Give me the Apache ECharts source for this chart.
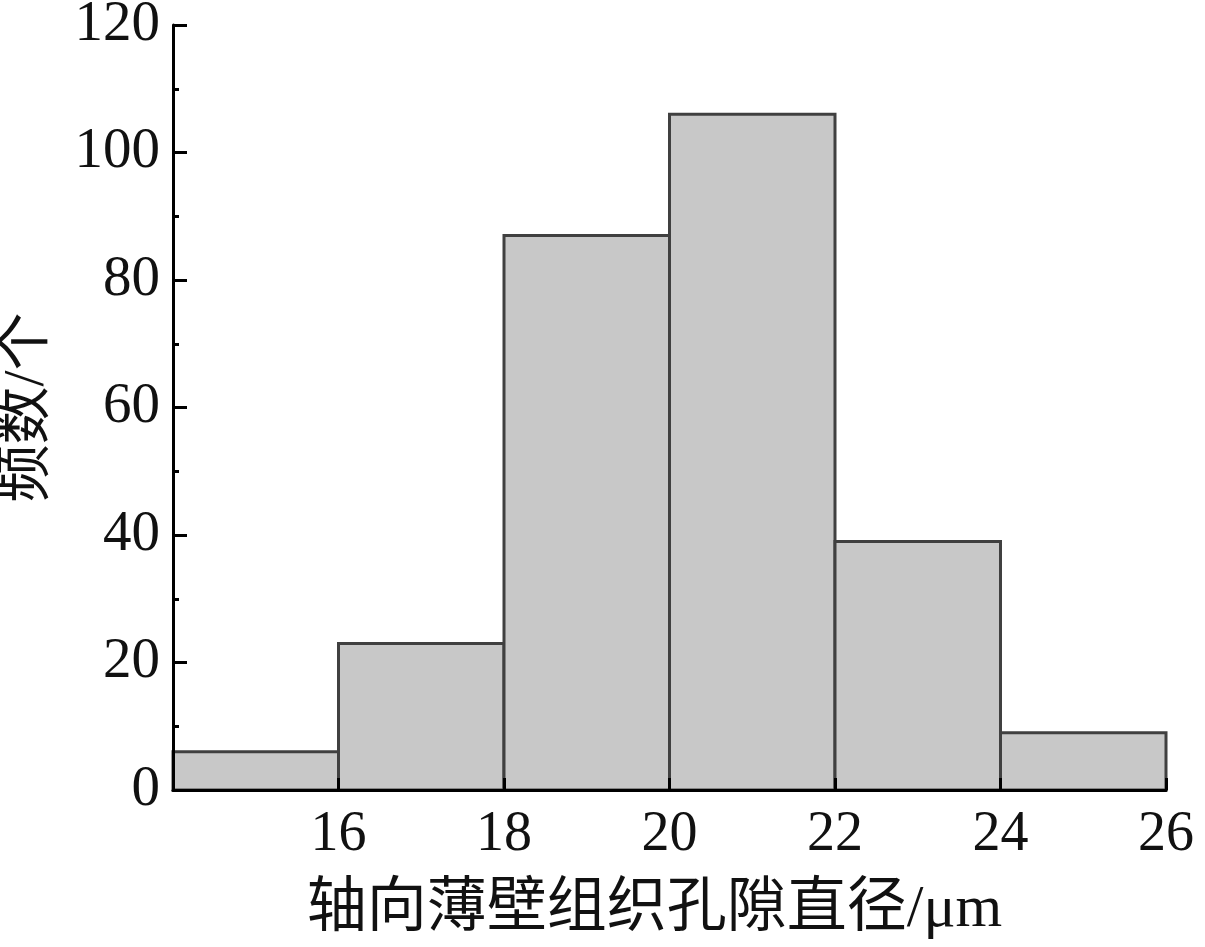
<!DOCTYPE html>
<html>
<head>
<meta charset="utf-8">
<script src="https://cdn.jsdelivr.net/npm/echarts@6/dist/echarts.min.js"></script>
<style>
  html, body { margin: 0; padding: 0; background: #fff; }
  #chart { width: 1205px; height: 947px; }
</style>
</head>
<body>
<div id="chart"></div>
<script>
// 分组边界与频数
const binStart = [14, 16, 18, 20, 22, 24]
const binEnd = [16, 18, 20, 22, 24, 26]
const counts = [6, 23, 87, 106, 39, 9]

const xName = '轴向薄壁组织孔隙直径/μm'
const yName = '频数/个'

const fontFamily = '"Liberation Serif", "Noto Sans CJK SC", serif'

let chart = echarts.init(document.getElementById('chart'))
let barData = binStart.map((s, i) => [s, binEnd[i], counts[i]])

chart.setOption({
  animation: false,
  grid: {
    left: 173,
    right: 39,
    top: 25,
    bottom: 157,
    outerBoundsMode: 'none',
    containLabel: false
  },
  xAxis: {
    type: 'value',
    min: 14,
    max: 26,
    interval: 2,
    z: 5,
    name: xName,
    nameLocation: 'middle',
    nameGap: 90,
    nameTextStyle: {
      color: '#111',
      fontSize: 60,
      fontFamily: fontFamily,
      padding: [0, 30, 0, 0]
    },
    axisLine: { lineStyle: { color: '#000', width: 3 } },
    axisTick: { inside: true, length: 12, lineStyle: { color: '#000', width: 3 } },
    splitLine: { show: false },
    axisLabel: {
      color: '#111',
      fontSize: 56,
      fontFamily: fontFamily,
      margin: 17,
      formatter: function (v) {
        return v === 14 ? '' : v
      }
    }
  },
  yAxis: {
    type: 'value',
    min: 0,
    max: 120,
    interval: 20,
    z: 5,
    name: yName,
    nameLocation: 'middle',
    nameGap: 116,
    nameTextStyle: {
      color: '#111',
      fontSize: 58,
      fontFamily: fontFamily
    },
    axisLine: { show: true, lineStyle: { color: '#000', width: 3 } },
    axisTick: { inside: true, length: 14, lineStyle: { color: '#000', width: 3 } },
    minorTick: { show: true, splitNumber: 2, length: 6, lineStyle: { color: '#000', width: 3 } },
    splitLine: { show: false },
    axisLabel: {
      color: '#111',
      fontSize: 57,
      fontFamily: fontFamily,
      margin: 13
    }
  },
  series: [
    {
      type: 'custom',
      data: barData,
      z: 2,
      renderItem: function (params, api) {
        let p0 = api.coord([api.value(0), api.value(2)])
        let p1 = api.coord([api.value(1), 0])
        return {
          type: 'rect',
          shape: { x: p0[0], y: p0[1], width: p1[0] - p0[0], height: p1[1] - p0[1] },
          style: { fill: '#c8c8c8', stroke: '#404040', lineWidth: 3 }
        }
      }
    }
  ]
})
</script>
</body>
</html>
